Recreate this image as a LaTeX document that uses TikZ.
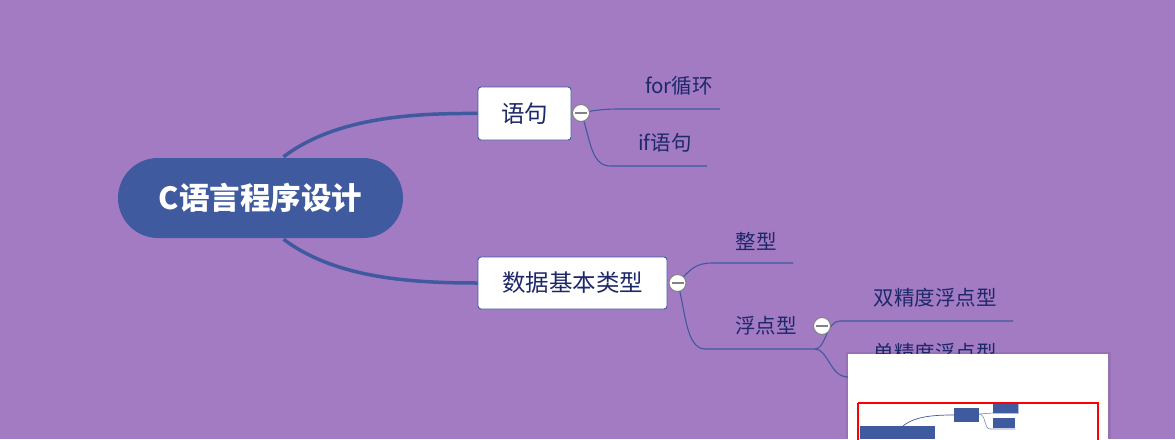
\documentclass[tikz,border=0pt]{standalone}
\usepackage{fontspec}
\newfontfamily\cjk{Noto Sans CJK SC}
\definecolor{bg}{RGB}{163,123,195}
\definecolor{mblue}{RGB}{63,90,158}
\definecolor{navy}{RGB}{30,40,105}
\definecolor{tgray}{RGB}{130,130,130}
\tikzset{
  rootnode/.style={fill=mblue,rounded corners=40pt,minimum width=285pt,minimum height=80pt,inner sep=0pt,text=white,font=\cjk\bfseries\fontsize{30.5}{34}\selectfont},
  boxnode/.style={draw=mblue,line width=0.9pt,fill=white,rounded corners=3pt,inner sep=0pt,text=navy},
  leaf/.style={text=navy,inner sep=0pt,font=\cjk\fontsize{20.5}{24}\selectfont},
  toggle/.style={circle,draw=tgray,line width=1pt,fill=white,minimum size=17pt,inner sep=0pt},
  mainline/.style={draw=mblue,line width=3.5pt},
  subline/.style={draw=mblue,line width=1.1pt},
}
\newcommand{\minus}[1]{\draw[tgray,line width=1.6pt] ([xshift=-6pt]#1.center) -- ([xshift=6pt]#1.center);}
\begin{document}
\begin{tikzpicture}[x=1pt,y=-1pt]
\fill[bg] (0,0) rectangle (1175,439);
\useasboundingbox (0,0) rectangle (1175,439);

% main nodes
\node[rootnode] (root) at (260.5,198) {C语言程序设计};
\node[boxnode,minimum width=93pt,minimum height=53pt,font=\cjk\fontsize{23.5}{27}\selectfont] (yuju) at (524.5,113.5) {语句};
\node[boxnode,minimum width=189pt,minimum height=52pt,font=\cjk\fontsize{23.5}{27}\selectfont] (shuju) at (572.5,283) {数据基本类型};

% main connectors
\draw[mainline] ([xshift=23pt,yshift=1pt]root.north) .. controls (335,118) and (410,113) .. (yuju.west);
\draw[mainline] ([xshift=23pt,yshift=-1pt]root.south) .. controls (335,278) and (410,283) .. (shuju.west);

% leaf labels
\node[leaf] (for) at (679,86) {for循环};
\node[leaf] (if) at (665,143) {if语句};
\node[leaf] (zheng) at (756,241) {整型};
\node[leaf] (fudian) at (766,326) {浮点型};
\node[leaf] (shuang) at (935,298) {双精度浮点型};
\node[leaf] (dan) at (935,353) {单精度浮点型};

% toggles (coordinates)
\coordinate (t1) at (581,113);
\coordinate (t2) at (677.5,283);
\coordinate (t3) at (822,326);
\coordinate (forend) at (720,109);
\coordinate (ifend) at (707,166);
\coordinate (zhengend) at (793,263);
\coordinate (fork) at (815,349);
\coordinate (shuangend) at (1013,321);
\coordinate (danend) at (900,377);

% sub connectors
\draw[subline] (t1) .. controls (595,110) and (605,109) .. (620,109) -- (forend);
\draw[subline] (t1) .. controls (590,135) and (590,166) .. (610,166) -- (ifend);
\draw[subline] (t2) .. controls (690,270) and (695,263) .. (712,263) -- (zhengend);
\draw[subline] (t2) .. controls (685,305) and (685,349) .. (705,349) -- (fork);
\draw[subline] (fork) .. controls (826,349) and (826,321) .. (840,321) -- (shuangend);
\draw[subline] (fork) .. controls (828,349) and (830,377) .. (848,377) -- (danend);

% toggles
\node[toggle] (c1) at (t1) {};
\node[toggle] (c2) at (t2) {};
\node[toggle] (c3) at (t3) {};
\minus{c1}\minus{c2}\minus{c3}

% minimap
\fill[black,opacity=0.08] (846,352) rectangle (1111,439);
\fill[white] (848,354) rectangle (1108,439);
\fill[mblue] (860,426) rectangle (935,439);
\draw[mblue,line width=0.7pt] (903,426) .. controls (915,416) and (935,415) .. (954,415);
\fill[mblue] (954,408) rectangle (979,422);
\fill[mblue] (993,403) rectangle (1018,413);
\fill[mblue] (993,418) rectangle (1015,428);
\draw[mblue!70,line width=0.6pt] (979,414) -- (993,413);
\draw[mblue!70,line width=0.6pt] (979,414) .. controls (986,414) and (984,429) .. (990,429) -- (1015,429);
\draw[mblue!40,line width=0.5pt] (993,413) -- (1018,413) -- (1018,403);
\draw[red,line width=2pt] (858,402.5) -- (1097.5,402.5) -- (1097.5,440);
\draw[red,line width=2pt] (858,402.5) -- (858,440);
\end{tikzpicture}
\end{document}
